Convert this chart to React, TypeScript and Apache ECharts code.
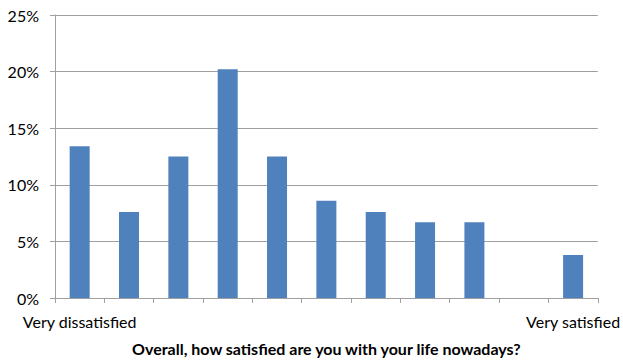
import React, { useEffect, useRef } from "react";
import * as echarts from "echarts";

const categories = ["Very dissatisfied", "", "", "", "", "", "", "", "", "", "Very satisfied"];
const values = [13.4, 7.6, 12.5, 20.2, 12.5, 8.6, 7.6, 6.7, 6.7, 0, 3.8];
const axisTitle = "Overall, how satisfied are you with your life nowadays?";

export default function App() {
  const ref = useRef<HTMLDivElement>(null);
  useEffect(() => {
    document.body.style.margin = "0";
    const chart = echarts.init(ref.current!, null, { renderer: "svg" });
    chart.setOption({
      animation: false,
      textStyle: { fontFamily: "Lato" },
      grid: { left: 55, right: 19, top: 15, bottom: 61, containLabel: false },
      xAxis: {
        type: "category",
        data: categories,
        name: axisTitle,
        nameLocation: "middle",
        nameGap: 42,
        nameTextStyle: { fontSize: 16, fontWeight: "bold", color: "#000", fontFamily: "Lato" },
        axisLine: { lineStyle: { color: "#a0a0a0", width: 1 } },
        axisTick: { show: true, length: 5, interval: 0, lineStyle: { color: "#a0a0a0" } },
        axisLabel: { interval: 0, margin: 15, fontSize: 16, color: "#000", fontFamily: "Lato" },
      },
      yAxis: {
        type: "value",
        min: 0,
        max: 25,
        interval: 5,
        axisLine: { show: true, lineStyle: { color: "#a0a0a0", width: 1 } },
        axisTick: { show: true, length: 5, lineStyle: { color: "#a0a0a0" } },
        splitLine: { lineStyle: { color: "#a0a0a0", width: 1 } },
        axisLabel: { formatter: "{value}%", margin: 16, fontSize: 16, color: "#000", fontFamily: "Lato" },
      },
      series: [
        {
          type: "bar",
          data: values,
          barWidth: 20,
          itemStyle: { color: "#4f81bd", borderWidth: 0 },
        },
      ],
    });
    return () => chart.dispose();
  }, []);
  return <div ref={ref} style={{ width: 623, height: 361 }} />;
}
